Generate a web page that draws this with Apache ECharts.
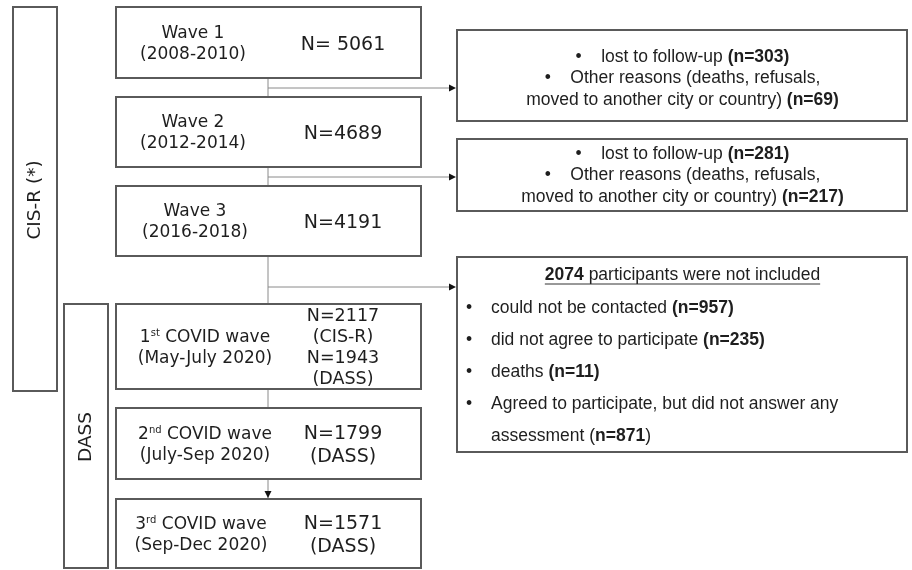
<!DOCTYPE html>
<html>
<head>
<meta charset="utf-8">
<script src="https://cdn.jsdelivr.net/npm/echarts@6/dist/echarts.min.js"></script>
<style>
  html, body { margin: 0; padding: 0; background: #fff; }
  #chart { width: 912px; height: 570px; }
</style>
</head>
<body>
<div id="chart"></div>
<script>
// study waves (left column)
const waveNames = ['Wave 1', 'Wave 2', 'Wave 3', '1st COVID wave', '2nd COVID wave', '3rd COVID wave'];
const wavePeriods = ['(2008-2010)', '(2012-2014)', '(2016-2018)', '(May-July 2020)', '(July-Sep 2020)', '(Sep-Dec 2020)'];
const waveN = [5061, 4689, 4191, 2117, 1799, 1571];
const nPrefix = ['N= ', 'N=', 'N=', 'N=', 'N=', 'N='];
const waveInstrument = ['', '', '', '(CIS-R)', '(DASS)', '(DASS)'];
const covid1DassN = 1943;
const instruments = ['CIS-R (*)', 'DASS'];

// losses between waves
const lostFollowUp = [303, 281];
const otherReasons = [69, 217];
const notIncludedTotal = 2074;
const notIncludedReasons = ['could not be contacted', 'did not agree to participate', 'deaths', 'Agreed to participate, but did not answer any\nassessment'];
const notIncludedN = [957, 235, 11, 871];

// layout, in page pixels (the hidden axes run 0..912 and 0..570)
const waveBoxes = [[116, 7, 421, 78], [116, 97, 421, 167], [116, 186, 421, 256], [116, 304, 421, 389], [116, 408, 421, 479], [116, 499, 421, 568]];
const waveTextX = [193, 193, 195, 205, 205, 201];
const nTextX = 343;
const bracketBoxes = [[13, 7, 57, 391], [64, 304, 108, 568]];
const noteBoxes = [[457, 30, 907, 121], [457, 139, 907, 211], [457, 257, 907, 452]];
const spineX = 268;
const branchY = [88, 177, 287];

const LEFT_FONT = '"DejaVu Sans", sans-serif';
const RIGHT_FONT = '"Liberation Sans", Arial, sans-serif';
const INK = '#1e1e1e';
const BORDER = '#5a5a5a';

const chart = echarts.init(document.getElementById('chart'));

function rect(p0, p1) {
  return {
    type: 'rect',
    shape: { x: p0[0], y: p0[1], width: p1[0] - p0[0], height: p1[1] - p0[1] },
    style: { fill: '#fff', stroke: BORDER, lineWidth: 2 }
  };
}

const leftRich = {
  t: { fontFamily: LEFT_FONT, fontSize: 17, lineHeight: 21, fill: INK },
  s: { fontFamily: LEFT_FONT, fontSize: 10, lineHeight: 21, fill: INK, verticalAlign: 'top', padding: [1, 0, 0, 0] },
  n: { fontFamily: LEFT_FONT, fontSize: 19, lineHeight: 23, fill: INK },
  m: { fontFamily: LEFT_FONT, fontSize: 17.5, lineHeight: 21.3, fill: INK }
};

function waveLabel(name) {
  const m = name.match(/^(\d)(st|nd|rd)(.*)$/);
  if (!m) return '{t|' + name + '}';
  return '{t|' + m[1] + '}{s|' + m[2] + '}{t|' + m[3] + '}';
}

function nLabel(i) {
  if (i === 3) {
    return '{m|' + nPrefix[i] + waveN[i] + '}\n{m|' + waveInstrument[i] + '}\n{m|N=' + covid1DassN + '}\n{m|(DASS)}';
  }
  let s = '{n|' + nPrefix[i] + waveN[i] + '}';
  if (waveInstrument[i]) s += '\n{n|' + waveInstrument[i] + '}';
  return s;
}

const rightRich = {
  r: { fontFamily: RIGHT_FONT, fontSize: 17.5, lineHeight: 21.5, fill: INK },
  b: { fontFamily: RIGHT_FONT, fontSize: 17.5, lineHeight: 21.5, fill: INK, fontWeight: 'bold' }
};

function lossLabel(i) {
  return '{r|•    lost to follow-up }{b|(n=' + lostFollowUp[i] + ')}\n' +
    '{r|•    Other reasons (deaths, refusals,}\n' +
    '{r|moved to another city or country) }{b|(n=' + otherReasons[i] + ')}';
}

// width of the underlined title, for the underline
const measureCtx = document.createElement('canvas').getContext('2d');
function textWidth(txt, font) { measureCtx.font = font; return measureCtx.measureText(txt).width; }

const option = {
  animation: false,
  backgroundColor: '#fff',
  grid: { left: 0, right: 0, top: 0, bottom: 0 },
  xAxis: { type: 'value', min: 0, max: 912, show: false },
  yAxis: { type: 'value', min: 0, max: 570, inverse: true, show: false },
  series: [
    {
      // instrument brackets
      type: 'custom',
      data: instruments.map((name, i) => [i]),
      renderItem(params, api) {
        const i = api.value(0);
        const b = bracketBoxes[i];
        const p0 = api.coord([b[0], b[1]]);
        const p1 = api.coord([b[2], b[3]]);
        const c = api.coord([(b[0] + b[2]) / 2, i === 0 ? 200 : 437]);
        return {
          type: 'group',
          children: [
            rect(p0, p1),
            {
              type: 'text',
              x: c[0], y: c[1], rotation: Math.PI / 2,
              style: { text: instruments[i], font: '18.5px ' + LEFT_FONT, fill: INK, align: 'center', verticalAlign: 'middle' }
            }
          ]
        };
      }
    },
    {
      // connectors between waves
      type: 'custom',
      data: waveN.slice(0, -1).map((n, i) => [i]),
      renderItem(params, api) {
        const i = api.value(0);
        const top = api.coord([spineX, waveBoxes[i][3]]);
        const bot = api.coord([spineX, waveBoxes[i + 1][1]]);
        const children = [{
          type: 'line',
          shape: { x1: top[0], y1: top[1], x2: bot[0], y2: bot[1] },
          style: { stroke: '#8a8a8a', lineWidth: 1 }
        }];
        if (i < branchY.length) {
          const a = api.coord([spineX, branchY[i]]);
          const e = api.coord([noteBoxes[i][0], branchY[i]]);
          children.push({
            type: 'line',
            shape: { x1: a[0], y1: a[1], x2: e[0] - 6, y2: e[1] },
            style: { stroke: '#8a8a8a', lineWidth: 1 }
          });
          children.push({
            type: 'polygon',
            shape: { points: [[e[0] - 8, e[1] - 3.5], [e[0] - 1, e[1]], [e[0] - 8, e[1] + 3.5]] },
            style: { fill: '#111' }
          });
        } else if (i === waveN.length - 2) {
          children.push({
            type: 'polygon',
            shape: { points: [[bot[0] - 3.5, bot[1] - 8], [bot[0], bot[1] - 1], [bot[0] + 3.5, bot[1] - 8]] },
            style: { fill: '#111' }
          });
        }
        return { type: 'group', children };
      }
    },
    {
      // wave boxes
      type: 'custom',
      data: waveN.map((n, i) => [i, n]),
      renderItem(params, api) {
        const i = api.value(0);
        const b = waveBoxes[i];
        const p0 = api.coord([b[0], b[1]]);
        const p1 = api.coord([b[2], b[3]]);
        const cy = (p0[1] + p1[1]) / 2 + 1.5;
        const lx = api.coord([waveTextX[i], 0])[0];
        const nx = api.coord([nTextX, 0])[0];
        return {
          type: 'group',
          children: [
            rect(p0, p1),
            {
              type: 'text', x: lx, y: cy,
              style: { text: waveLabel(waveNames[i]) + '\n{t|' + wavePeriods[i] + '}', rich: leftRich, align: 'center', verticalAlign: 'middle' }
            },
            {
              type: 'text', x: nx, y: cy + (i === 3 ? 0 : 1),
              style: { text: nLabel(i), rich: leftRich, align: 'center', verticalAlign: 'middle' }
            }
          ]
        };
      }
    },
    {
      // loss boxes (right column)
      type: 'custom',
      data: noteBoxes.map((b, i) => [i]),
      renderItem(params, api) {
        const i = api.value(0);
        const b = noteBoxes[i];
        const p0 = api.coord([b[0], b[1]]);
        const p1 = api.coord([b[2], b[3]]);
        const cx = (p0[0] + p1[0]) / 2 + 0.5;
        const children = [rect(p0, p1)];
        if (i < lostFollowUp.length) {
          children.push({
            type: 'text', x: cx, y: (p0[1] + p1[1]) / 2 + (i === 0 ? 3 : 0.5),
            style: { text: lossLabel(i), rich: rightRich, align: 'center', verticalAlign: 'middle' }
          });
        } else {
          const ty = p0[1] + 18;
          const boldPart = String(notIncludedTotal);
          const rest = ' participants were not included';
          const w = textWidth(boldPart, 'bold 17.5px ' + RIGHT_FONT) + textWidth(rest, '17.5px ' + RIGHT_FONT);
          children.push({
            type: 'text', x: cx, y: ty,
            style: { text: '{b|' + boldPart + '}{r|' + rest + '}', rich: rightRich, align: 'center', verticalAlign: 'middle' }
          });
          children.push({
            type: 'line',
            shape: { x1: cx - w / 2, y1: ty + 9, x2: cx + w / 2, y2: ty + 9 },
            style: { stroke: '#333', lineWidth: 1 }
          });
          const bulletX = p0[0] + 12;
          const textX = p0[0] + 34;
          let y = p0[1] + 51;
          notIncludedReasons.forEach((reason, k) => {
            children.push({
              type: 'text', x: bulletX, y: y,
              style: { text: '•', font: '17.5px ' + RIGHT_FONT, fill: INK, align: 'center', verticalAlign: 'middle' }
            });
            const parts = reason.split('\n');
            parts.forEach((part, j) => {
              const last = j === parts.length - 1;
              let txt;
              if (!last) txt = '{r|' + part + '}';
              else if (parts.length > 1) txt = '{r|' + part + ' (}{b|n=' + notIncludedN[k] + '}{r|)}';
              else txt = '{r|' + part + ' }{b|(n=' + notIncludedN[k] + ')}';
              children.push({
                type: 'text', x: textX, y: y,
                style: { text: txt, rich: rightRich, align: 'left', verticalAlign: 'middle' }
              });
              if (!last) y += 32;
            });
            y += 32;
          });
        }
        return { type: 'group', children };
      }
    }
  ]
};

chart.setOption(option);
</script>
</body>
</html>
